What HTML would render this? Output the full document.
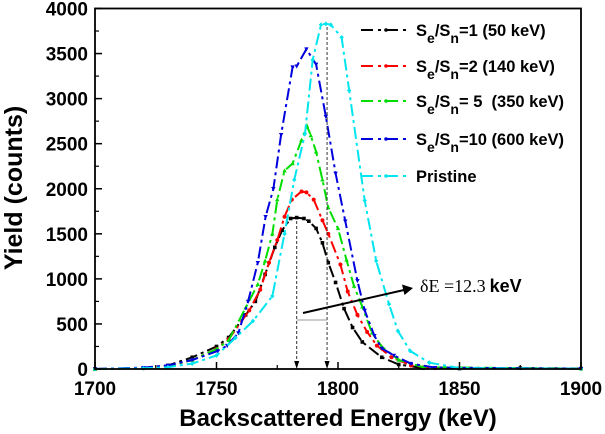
<!DOCTYPE html>
<html><head><meta charset="utf-8"><style>
html,body{margin:0;padding:0;background:#fff;}
svg{display:block;font-family:"Liberation Sans",Arial,sans-serif;}
</style></head><body>
<svg id="chart" width="605" height="434" viewBox="0 0 605 434" xmlns="http://www.w3.org/2000/svg"></svg>
<script>
const xTicks=[1700,1750,1800,1850,1900];
const yTicks=[0,500,1000,1500,2000,2500,3000,3500,4000];
const blackE=[1700,1720,1730,1740,1750,1755,1762,1766,1770,1774,1777,1780.5,1783,1786,1788,1791,1793.6,1796,1799,1802.5,1806,1810,1818,1825,1835,1850,1875,1900];
const blackY=[0,10,40,130,250,350,600,750,1050,1350,1540,1670,1680,1670,1640,1560,1400,1180,960,670,460,300,130,50,10,5,10,5];
const redE=[1700,1720,1730,1740,1750,1755,1763.5,1768,1771.6,1775,1778,1781,1785,1787,1790,1793.6,1796,1801,1804,1808,1812,1816,1822,1830,1840,1900];
const redY=[0,8,30,100,220,330,650,880,1180,1430,1690,1880,1970,1960,1880,1650,1500,1160,860,600,410,260,130,40,10,3];
const greenE=[1700,1720,1730,1740,1750,1755,1762,1767,1770,1773,1775,1778,1781.3,1785,1787.2,1788.8,1791,1793.6,1796,1800,1803.5,1806.6,1810,1814,1818,1825,1835,1900];
const greenY=[0,8,30,100,220,320,680,940,1200,1500,1880,2200,2280,2540,2700,2590,2410,2100,1790,1560,1210,920,690,400,250,100,20,3];
const blueE=[1700,1720,1730,1740,1750.5,1754.4,1759,1763,1767,1770.2,1773.4,1776.6,1781.3,1783,1787,1791,1795,1799,1803,1808,1811,1815,1818,1823,1830,1840,1900];
const blueY=[0,15,40,100,200,260,400,750,1180,1690,2000,2600,3350,3360,3550,3380,2800,2170,1640,980,650,370,230,150,60,15,3];
const cyanE=[1700,1720,1730,1740,1750,1757.8,1765,1773,1778,1782,1786.4,1789.6,1793,1795,1797,1801.5,1804.6,1811,1815.7,1821,1824.7,1829.7,1837.6,1850,1900];
const cyanY=[0,8,20,60,150,346,533,810,1500,2100,2610,3430,3820,3830,3820,3680,3090,1870,1200,720,420,200,70,10,3];
const seriesE=[blackE,redE,greenE,blueE,cyanE];
const seriesY=[blackY,redY,greenY,blueY,cyanY];
const colors=["#000000","#ff0000","#00dd00","#0000dd","#00e5ee"];
const markers=["square","circle","tri-up","tri-down","diamond"];
const names=["series-se-sn-1","series-se-sn-2","series-se-sn-5","series-se-sn-10","series-pristine"];

const L=95,R=581,T=8.5,B=369;
const xMin=1700,xMax=1900,yMin=0,yMax=4000;
const sx=v=>L+(v-xMin)/(xMax-xMin)*(R-L);
const sy=v=>B-(v-yMin)/(yMax-yMin)*(B-T);
const NS="http://www.w3.org/2000/svg";
const svg=document.getElementById('chart');
function mk(tag,attrs,parent){const e=document.createElementNS(NS,tag);for(const k in attrs)e.setAttribute(k,attrs[k]);(parent||svg).appendChild(e);return e;}

seriesE.forEach((E,si)=>{
  const g=mk('g',{});
  
  
  const pts=E.map((e,i)=>sx(e).toFixed(1)+','+sy(seriesY[si][i]).toFixed(1)).join(' ');
  const pl=mk('polyline',{points:pts,fill:'none',stroke:colors[si],'stroke-width':2,'stroke-dasharray':'12,4,3,4'},g);
  
  
  E.forEach((e,i)=>{
    const x=sx(e),y=sy(seriesY[si][i]);let m;
    const t=markers[si];
    if(t==='square')m=mk('rect',{x:x-1.8,y:y-1.8,width:3.6,height:3.6,fill:colors[si]},g);
    else if(t==='circle')m=mk('circle',{cx:x,cy:y,r:2,fill:colors[si]},g);
    else if(t==='tri-up')m=mk('path',{d:`M${x},${y-2.4}L${x+2.2},${y+1.7}L${x-2.2},${y+1.7}Z`,fill:colors[si]},g);
    else if(t==='tri-down')m=mk('path',{d:`M${x},${y+2.4}L${x+2.2},${y-1.7}L${x-2.2},${y-1.7}Z`,fill:colors[si]},g);
    else m=mk('path',{d:`M${x},${y-2.4}L${x+2.2},${y}L${x},${y+2.4}L${x-2.2},${y}Z`,fill:colors[si]},g);
    
    
  });
});

const fr=mk('rect',{x:L,y:T,width:R-L,height:B-T,fill:'none',stroke:'#000','stroke-width':1.8});



xTicks.forEach((v,i)=>{
  const x=sx(v);
  const tk=mk('line',{x1:x,x2:x,y1:B,y2:B-7,stroke:'#000','stroke-width':1.5});
  
  
  if(i<xTicks.length-1){const xm=sx(v+25);mk('line',{x1:xm,x2:xm,y1:B,y2:B-4,stroke:'#000','stroke-width':1.2});}
  const t=mk('text',{x:x,y:395,'text-anchor':'middle','font-size':19,'font-weight':'bold'});
  t.textContent=v;
  
  
});
yTicks.forEach((v,i)=>{
  const y=sy(v);
  const tk=mk('line',{x1:L,x2:L+7,y1:y,y2:y,stroke:'#000','stroke-width':1.5});
  
  
  if(i<yTicks.length-1){const ym=sy(v+250);mk('line',{x1:L,x2:L+4,y1:ym,y2:ym,stroke:'#000','stroke-width':1.2});}
  const t=mk('text',{x:88,y:y+7,'text-anchor':'end','font-size':19,'font-weight':'bold'});
  t.textContent=v;
  
  
});

const v1=sx(1783),v2=sx(1795.5);
const a1=mk('line',{x1:v1,x2:v1,y1:221,y2:362,stroke:'#333','stroke-width':1,'stroke-dasharray':'3,2'});


const a2=mk('line',{x1:v2,x2:v2,y1:27,y2:362,stroke:'#333','stroke-width':1,'stroke-dasharray':'3,2'});


[v1,v2].forEach(x=>mk('path',{d:`M${x-2.5},${361}L${x+2.5},${361}L${x},${369}Z`,fill:'#000'}));
mk('line',{x1:v1,x2:v2,y1:320,y2:320,stroke:'#999','stroke-width':1});
const ar=mk('line',{x1:303,y1:313,x2:404,y2:290,stroke:'#000','stroke-width':2});


mk('path',{d:'M413,288 L402,284.5 L404.5,295 Z',fill:'#000'});
const de=mk('text',{x:420,y:292,'font-size':18});


de.innerHTML='<tspan font-family="Liberation Serif,serif">δE =12.3</tspan><tspan font-weight="bold" dx="4">keV</tspan>';

const legLab=['1 (50 keV)','2 (140 keV)',' 5  (350 keV)','10 (600 keV)'];
const rowY=[30,66,101,139,176];
rowY.forEach((y,i)=>{
  const g=mk('g',{});
  
  
  mk('line',{x1:361,x2:411,y1:y,y2:y,stroke:colors[i],'stroke-width':2,'stroke-dasharray':'12,5,3,5'},g);
  mk('circle',{cx:386,cy:y,r:1.8,fill:colors[i]},g);
  const t=mk('text',{x:416,y:y+6,'font-size':16.5,'font-weight':'bold'},g);
  if(i<4){
    t.innerHTML='S<tspan font-size="14" dy="7">e</tspan><tspan dy="-7">/S</tspan><tspan font-size="14" dy="7">n</tspan><tspan dy="-7" xml:space="preserve">='+legLab[i]+'</tspan>';
  } else t.textContent='Pristine';
});

const xt=mk('text',{x:338,y:426,'text-anchor':'middle','font-size':24,'font-weight':'bold'});
xt.textContent='Backscattered Energy (keV)';


const yt=mk('text',{x:0,y:0,'text-anchor':'middle','font-size':25,'font-weight':'bold',transform:'translate(22,188) rotate(-90)'});
yt.textContent='Yield (counts)';


</script>
</body></html>
